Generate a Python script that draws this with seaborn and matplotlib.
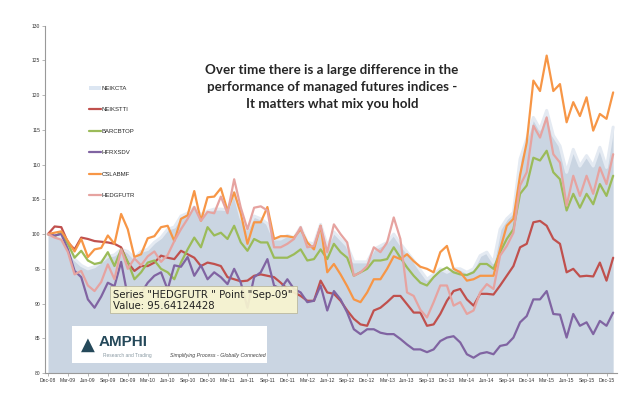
import matplotlib
matplotlib.use("Agg")
import matplotlib.pyplot as plt
from matplotlib.patches import Patch, Rectangle
from matplotlib.lines import Line2D
import seaborn as sns
import pandas as pd

# Monthly index levels, Dec-08 .. Jan-16 (rebased to 100)
months = pd.date_range("2008-12-01", periods=86, freq="MS")
tick_labels = [d.strftime("%b-%y") for d in months[::3]]

neikcta = [100, 99.7, 99.5, 98, 96.4, 95.5, 95, 95.3, 96, 96.8, 97, 97.8, 97.5, 96.5, 97.5,
           97.8, 98.8, 99.5, 100.7, 101, 102.6, 103, 103.9, 102.8, 103.3, 103.6, 103.6, 103.5,
           106, 102.4, 100.7, 102.6, 102.2, 101.5, 99.3, 99.3, 99.8, 99.5, 101, 98.8, 98.6,
           101.4, 98.3, 100.3, 99.3, 98.3, 96, 96, 96, 97.8, 98.3, 98.8, 100, 98.6, 97.4, 96.2,
           94.8, 93.5, 94.2, 95, 94.5, 95, 95, 94.5, 95, 96.9, 97.4, 95.9, 100.7, 102.2, 103.1,
           110.8, 113.7, 116.8, 115.1, 117.8, 114.2, 112.7, 108.9, 112.2, 109.8, 111.3, 109.8,
           112.5, 109.6, 115.4]
neiksti = [100, 101.1, 101, 98.8, 97.8, 99.5, 99.3, 99, 98.9, 98.8, 98.6, 98.1, 95.9, 94.7,
           95.4, 95.4, 95.9, 96.9, 96.6, 96.4, 97.6, 97.1, 96.6, 95.4, 95.9, 95.7, 95.4, 93.8,
           93.5, 93.2, 93.3, 94, 94.2, 94, 93.8, 93, 92.1, 91.6, 91.1, 90.4, 90.4, 93.3, 91.6,
           91.4, 90.4, 89, 87.8, 87, 86.8, 89, 89.4, 90.2, 91.1, 91.1, 89.9, 88.7, 88.7, 86.8,
           87, 88.5, 90.4, 91.8, 92.1, 90.6, 89.7, 91.4, 91.4, 91.3, 92.6, 94, 95.4, 98.1, 98.6,
           101.7, 101.9, 101.2, 99.3, 98.6, 94.5, 95, 93.9, 94, 93.9, 95.9, 93.3, 96.6]
barcbtop = [100, 99.7, 100.2, 98.6, 96.6, 97.6, 96.2, 95.7, 95.9, 97.4, 95.4, 97.8, 96, 93.5,
            94.5, 95.9, 96.2, 95, 94.5, 93.5, 95.9, 97.8, 99.5, 98.1, 101, 99.8, 100.2, 99.3,
            101.2, 98.8, 97.6, 99.3, 98.8, 98.8, 96.6, 96.6, 96.6, 97.1, 97.8, 96.2, 96.4, 97.8,
            96.4, 98.6, 97.4, 96.6, 94, 94.5, 95, 96.2, 96.2, 96.4, 98.1, 96.6, 95.2, 94, 93,
            92.6, 93.8, 94.7, 95.2, 94.5, 94.2, 94.1, 94.5, 95.7, 95.7, 95, 97.4, 99.3, 100.7,
            105.8, 107, 111, 110.6, 112, 108.9, 107.9, 103.4, 105.8, 103.8, 105.8, 104.3, 107.2,
            105.5, 108.4]
hfrxsdv = [100, 99.8, 100, 97.8, 94.7, 93.8, 90.6, 89.4, 91, 93, 92.5, 96, 91, 90.5, 91.5, 93,
           94, 94.5, 92, 95.5, 95.3, 96.7, 94, 95.5, 93.5, 94.5, 93.8, 92.8, 95, 93, 89.4, 93.8,
           94.5, 96.4, 92.6, 92.1, 93.5, 92.1, 91.6, 90.2, 90.4, 92.6, 89, 91.8, 90.6, 88.7,
           86.3, 85.6, 86.3, 86.3, 85.8, 85.6, 85.6, 84.9, 84.1, 83.4, 83.4, 83, 83.4, 84.6,
           85.1, 85.3, 84.4, 82.7, 82.2, 82.8, 83, 82.7, 83.9, 84.1, 85.1, 87.3, 88.2, 90.6,
           90.6, 91.8, 88.5, 88.4, 85.1, 88.5, 86.8, 87.3, 85.6, 87.5, 86.8, 88.7]
cslabmf = [100, 100.2, 100.4, 99, 97.5, 99.3, 96.7, 97.8, 98, 99.8, 98.6, 102.9, 100.7, 96.7,
           97.1, 99.4, 99.7, 101, 101.2, 99, 102.2, 102.7, 106.2, 101.9, 105.3, 105.4, 106.6,
           103.4, 106, 103, 98.6, 101.7, 101.7, 103.9, 99.3, 99.7, 99.7, 99.5, 100.7, 98.8, 97.8,
           101.2, 94.5, 95.7, 94.2, 92.5, 90.6, 90.2, 91.6, 93.5, 93.5, 95, 96.8, 96.4, 97.1,
           96.1, 95.3, 95, 94.5, 97.4, 98.3, 95, 94.5, 93.3, 93.5, 94, 94, 94, 97.8, 101.2, 102.2,
           108.5, 113.2, 122.1, 120.6, 125.7, 120.6, 121.6, 116.1, 119, 117, 119.7, 114.9, 117.3,
           116.6, 120.4]
hedgfutr = [100, 99.5, 99.2, 97.4, 94.2, 94.7, 92.6, 91.8, 93.1, 95.64, 93.5, 97.8, 95, 96.5,
            95.5, 96.8, 97.5, 96, 97, 99, 100.7, 102.2, 103.9, 101.9, 103.2, 103, 105.4, 103,
            107.9, 103.8, 100.7, 103.8, 104, 103.4, 98.1, 98.1, 98.6, 99.3, 101, 98.1, 98.3,
            101.2, 97.4, 101.4, 100, 98.8, 94, 94.5, 95.4, 98.1, 97.4, 98.8, 102.4, 99.3, 91.6,
            91.1, 89.1, 88, 90.2, 92.6, 92.6, 89.7, 90.2, 88.5, 89, 91.6, 92.8, 92.1, 96.9, 98.3,
            100.2, 107, 108.9, 115.6, 113.9, 116.8, 111.5, 110.3, 104.1, 108.4, 105.5, 108.4,
            105.8, 109.6, 107.2, 111.5]

line_series = {"NEIKSTTI": neiksti, "BARCBTOP": barcbtop, "HFRXSDV": hfrxsdv,
               "CSLABMF": cslabmf, "HEDGFUTR": hedgfutr}
palette = {"NEIKSTTI": "#c0504d", "BARCBTOP": "#9bbb59", "HFRXSDV": "#8064a2",
           "CSLABMF": "#f79646", "HEDGFUTR": "#e6a3a0"}
area_color = "#cad5e2"

frames = [pd.DataFrame({"month": range(len(v)), "value": v, "series": k})
          for k, v in line_series.items()]
df = pd.concat(frames, ignore_index=True)

sns.set_style("white")
plt.rcParams["font.family"] = ["Liberation Sans", "DejaVu Sans"]

fig = plt.figure(figsize=(6.4, 4.01), dpi=100)
ax = fig.add_axes([0.0703, 0.0698, 0.894, 0.866])

# NEIKCTA as filled area
idx = list(range(len(neikcta)))
ax.fill_between(idx, 80, neikcta, color=area_color, lw=0, zorder=1)
ax.plot(idx, neikcta, color="#e4eaf2", lw=2.2, zorder=1.5)

sns.lineplot(data=df, x="month", y="value", hue="series", palette=palette,
             hue_order=list(line_series), lw=1.6, legend=False, ax=ax, zorder=3)

ax.set_xlim(-0.45, 85.6)
ax.set_ylim(80, 130)
ax.set_yticks(range(80, 131, 5))
ax.set_xticks(range(0, len(months), 3))
ax.set_xticklabels(tick_labels)
ax.set(xlabel="", ylabel="")
ax.tick_params(axis="both", labelsize=3.6, length=2, width=0.5, color="#999999",
               pad=1.5, labelcolor="#333333")
ax.tick_params(axis="x", bottom=True)
ax.tick_params(axis="y", left=True)
for side in ["top", "right"]:
    ax.spines[side].set_visible(False)
for side in ["left", "bottom"]:
    ax.spines[side].set_color("#999999")
    ax.spines[side].set_linewidth(0.8)

# legend
handles = [Patch(facecolor="#dce6f2", edgecolor="none", label="NEIKCTA")]
handles += [Line2D([], [], color=palette[k], lw=1.6, label=k) for k in line_series]
ax.legend(handles=handles, loc="upper left", bbox_to_anchor=(89 / 640, 1 - 86 / 401),
          bbox_transform=fig.transFigure, frameon=False, fontsize=4.3,
          labelspacing=2.75, handlelength=2.0, handleheight=0.6, handletextpad=0.1,
          borderpad=0, borderaxespad=0)

# title text
fig.text(332 / 640, 1 - 87 / 401,
         "Over time there is a large difference in the\n"
         "performance of managed futures indices -\n"
         "It matters what mix you hold",
         ha="center", va="center", fontsize=9.6, fontweight="bold",
         linespacing=1.45, family=["Lato", "DejaVu Sans"])

# tooltip
fig.patches.append(Rectangle((110 / 640, 1 - 313 / 401), 187 / 640, 27 / 401,
                             transform=fig.transFigure, facecolor="#f8f5d0",
                             edgecolor="#b8b59a", lw=0.6, alpha=0.92, zorder=5))
fig.text(113 / 640, 1 - 295 / 401, 'Series "HEDGFUTR " Point "Sep-09"',
         fontsize=7.3, va="center", color="#222222", zorder=6,
         family=["DejaVu Sans"])
fig.text(113 / 640, 1 - 306 / 401, "Value: 95.64124428", fontsize=7.3,
         va="center", color="#222222", zorder=6, family=["DejaVu Sans"])

# logo box
fig.patches.append(Rectangle((72 / 640, 1 - 363 / 401), 195 / 640, 37 / 401,
                             transform=fig.transFigure, facecolor="white",
                             edgecolor="none", zorder=5))
fig.text(88 / 640, 1 - 345 / 401, "\u25B2", fontsize=13, color="#25495a",
         ha="center", va="center", zorder=6, family=["DejaVu Sans"])
fig.text(99 / 640, 1 - 342 / 401, "AMPHI", fontsize=11, fontweight="bold",
         color="#25495a", va="center", zorder=6)
fig.text(103 / 640, 1 - 355 / 401, "Research and Trading", fontsize=3.5,
         color="#8a9aa3", va="center", zorder=6)
fig.text(170 / 640, 1 - 356 / 401, "Simplifying Process - Globally Connected",
         fontsize=3.8, style="italic", color="#444444", va="center", zorder=6)

fig.savefig("out.png", dpi=100)
